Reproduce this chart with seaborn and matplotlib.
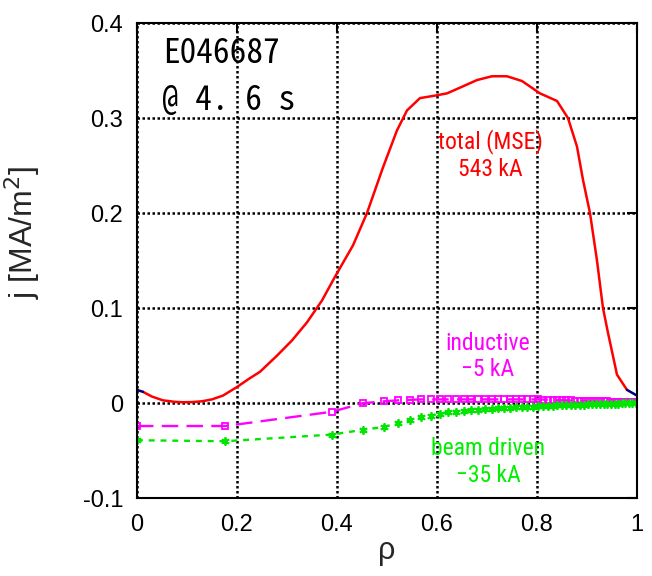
import matplotlib
matplotlib.use("Agg")
import matplotlib.pyplot as plt
import seaborn as sns

# total current profile (MSE), red part
rho_total = [0.012, 0.03, 0.052, 0.075, 0.092, 0.11, 0.13, 0.15, 0.172, 0.2, 0.225, 0.246,
             0.28, 0.31, 0.34, 0.37, 0.396, 0.432, 0.46, 0.492, 0.52, 0.54, 0.566, 0.6,
             0.62, 0.646, 0.68, 0.71, 0.74, 0.77, 0.806, 0.84, 0.862, 0.88, 0.892, 0.906,
             0.92, 0.932, 0.942, 0.96, 0.98]
j_total = [0.012, 0.007, 0.003, 0.0015, 0.001, 0.0012, 0.002, 0.004, 0.008, 0.017, 0.026, 0.033,
           0.05, 0.066, 0.085, 0.108, 0.133, 0.166, 0.2, 0.248, 0.287, 0.308, 0.321, 0.324,
           0.326, 0.332, 0.34, 0.344, 0.344, 0.339, 0.326, 0.318, 0.30, 0.27, 0.235, 0.2,
           0.15, 0.10, 0.074, 0.03, 0.014]
# edge pieces drawn in dark blue
rho_edge_l = [0.0, 0.012]
j_edge_l = [0.014, 0.012]
rho_edge_r = [0.98, 1.0]
j_edge_r = [0.014, 0.008]

# inductive and beam driven profiles on the transport grid
rho_grid = [0.0, 0.177, 0.39, 0.452, 0.494, 0.522, 0.546, 0.568, 0.588, 0.606, 0.623, 0.639,
            0.654, 0.669, 0.683, 0.697, 0.71, 0.723, 0.735, 0.747, 0.759, 0.77, 0.781, 0.792,
            0.802, 0.812, 0.822, 0.832, 0.841, 0.85, 0.859, 0.868, 0.877, 0.886, 0.894, 0.902,
            0.91, 0.918, 0.926, 0.934, 0.941, 0.948, 0.955, 0.962, 0.969, 0.976, 0.983, 0.99, 0.997]
j_ind = [-0.024, -0.024, -0.009, 0.0, 0.002, 0.003, 0.0035, 0.004, 0.004, 0.004, 0.004, 0.004,
         0.004, 0.004, 0.004, 0.004, 0.004, 0.004, 0.004, 0.004, 0.004, 0.004, 0.004, 0.004,
         0.004, 0.0038, 0.0036, 0.0035, 0.0034, 0.0032, 0.003, 0.0029, 0.0028, 0.0026, 0.0025, 0.0024,
         0.0022, 0.0021, 0.002, 0.0019, 0.0018, 0.0016, 0.0015, 0.0014, 0.0013, 0.0012, 0.001, 0.0009, 0.0008]
j_beam = [-0.039, -0.040, -0.033, -0.028, -0.025, -0.021, -0.018, -0.015, -0.013, -0.011, -0.0097, -0.0088,
          -0.008, -0.0073, -0.0067, -0.0062, -0.0057, -0.0053, -0.0049, -0.0046, -0.0043, -0.004, -0.0037, -0.0035,
          -0.0032, -0.003, -0.0028, -0.0026, -0.0024, -0.0022, -0.002, -0.0019, -0.0017, -0.0016, -0.0014, -0.0013,
          -0.0012, -0.001, -0.0009, -0.0008, -0.0007, -0.0006, -0.0005, -0.0004, -0.0003, -0.0002, -0.0001, 0.0, 0.0]

xticks = [0, 0.2, 0.4, 0.6, 0.8, 1.0]
xtick_labels = ["0", "0.2", "0.4", "0.6", "0.8", "1"]
yticks = [-0.1, 0.0, 0.1, 0.2, 0.3, 0.4]
ytick_labels = ["-0.1", "0", "0.1", "0.2", "0.3", "0.4"]

sns.set_style("white")
plt.rcParams["font.family"] = ["Liberation Sans", "DejaVu Sans"]

fig = plt.figure(figsize=(6.52, 5.76), dpi=100)
ax = fig.add_axes([0.21, 0.135, 0.767, 0.825])

sns.lineplot(x=rho_total, y=j_total, color="#ff0000", linewidth=1.8, sort=False, ax=ax)
sns.lineplot(x=rho_edge_l, y=j_edge_l, color="#000080", linewidth=1.8, sort=False, ax=ax)
sns.lineplot(x=rho_edge_r, y=j_edge_r, color="#000080", linewidth=1.8, sort=False, ax=ax)

sns.lineplot(x=rho_grid, y=j_ind, color="#ff00ff", linewidth=1.7, sort=False, ax=ax,
             linestyle=(0, (7, 3.5)), marker="s", markersize=4.5,
             markerfacecolor="none", markeredgecolor="#ff00ff", markeredgewidth=1.3)
sns.lineplot(x=rho_grid, y=j_beam, color="#00e600", linewidth=1.7, sort=False, ax=ax,
             linestyle=(0, (2.5, 2.5)), marker=(6, 2, 0), markersize=6,
             markeredgecolor="#00e600", markeredgewidth=1.3)

ax.set_xlim(0, 1)
ax.set_ylim(-0.1, 0.4)
ax.set_xticks(xticks)
ax.set_xticklabels(xtick_labels)
ax.set_yticks(yticks)
ax.set_yticklabels(ytick_labels)
ax.tick_params(direction="in", length=7, width=1.5, labelsize=17, pad=10,
               top=True, right=True, colors="black")
ax.tick_params(axis="x", pad=11)
ax.grid(True, color="black", linestyle=(0, (1, 1)), linewidth=1.8)
for s in ax.spines.values():
    s.set_linewidth(1.5)
    s.set_color("black")

ax.set_xlabel("ρ", fontsize=22, labelpad=0)
ax.set_ylabel("j [MA/m$^{2}$]", fontsize=23)
ax.yaxis.set_label_coords(-0.19, 0.56)

mono = ["Noto Sans Mono CJK JP", "DejaVu Sans Mono"]
ax.text(0.052, 0.368, "E046687", fontsize=24, family=mono, color="black", va="center")
ax.text(0.05, 0.318, "@ 4. 6 s", fontsize=24, family=mono, color="black", va="center")

narrow = ["Liberation Sans Narrow", "Roboto Condensed", "Open Sans Condensed", "Liberation Sans"]
ax.text(0.706, 0.261, "total (MSE)\n543 kA", fontsize=17, family=narrow, color="#ff0000",
        ha="center", va="center", linespacing=1.2)
ax.text(0.702, 0.049, "inductive\n\u22125 kA", fontsize=17, family=narrow, color="#ff00ff",
        ha="center", va="center", linespacing=1.2)
ax.text(0.702, -0.062, "beam driven\n\u221235 kA", fontsize=17, family=narrow, color="#00f000",
        ha="center", va="center", linespacing=1.2)

fig.savefig("out.png", dpi=100, facecolor="white")
